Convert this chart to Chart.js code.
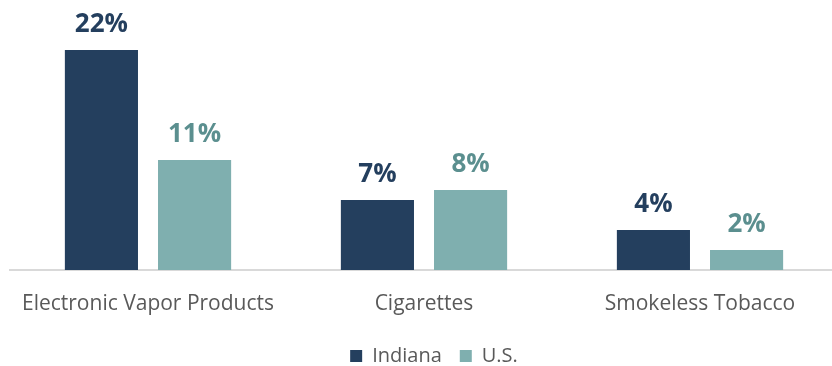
<!DOCTYPE html>
<html>
<head>
<meta charset="utf-8">
<script src="https://cdn.jsdelivr.net/npm/chart.js@4.4.1/dist/chart.umd.min.js"></script>
<style>
  html, body { margin: 0; padding: 0; background: #fff; }
  #wrap { width: 832px; height: 366px; overflow: hidden; }
  #box { width: 840px; height: 366px; }
</style>
</head>
<body>
<div id="wrap"><div id="box"><canvas id="chart"></canvas></div></div>
<script>
const categorias = ['Electronic Vapor Products', 'Cigarettes', 'Smokeless Tobacco'];
const indiana = [22, 7, 4];
const us = [11, 8, 2];

const corIndiana = '#243f5e';
const corUS = '#7fafaf';
const fonte = "'Open Sans', sans-serif";

// escreve o valor (%) acima de cada barra
const rotulosBarras = {
    id: 'rotulosBarras',
    afterDatasetsDraw(chart) {
        const ctx = chart.ctx;
        ctx.save();
        ctx.font = `bold 26px ${fonte}`;
        ctx.textAlign = 'center';
        ctx.textBaseline = 'alphabetic';
        chart.data.datasets.forEach((ds, i) => {
            chart.getDatasetMeta(i).data.forEach((bar, j) => {
                ctx.fillStyle = ds.labelColor;
                ctx.fillText(ds.data[j] + '%', bar.x, bar.y - 18);
            });
        });
        ctx.restore();
    }
};

// empurra a legenda um pouco para a direita
const deslocaLegenda = {
    id: 'deslocaLegenda',
    afterLayout(chart) {
        chart.legend.left += 10;
        chart.legend.right += 10;
    }
};

new Chart(document.getElementById('chart'), {
    type: 'bar',
    data: {
        labels: categorias,
        datasets: [{
            label: 'Indiana',
            data: indiana,
            backgroundColor: corIndiana,
            labelColor: corIndiana,
            barPercentage: 0.785,
            categoryPercentage: 0.675
        }, {
            label: 'U.S.',
            data: us,
            backgroundColor: corUS,
            labelColor: '#5b8f8f',
            barPercentage: 0.785,
            categoryPercentage: 0.675
        }]
    },
    options: {
        responsive: true,
        maintainAspectRatio: false,
        animation: false,
        layout: { padding: { left: 10, right: 2, top: 50, bottom: -10 } },
        plugins: {
            legend: {
                position: 'bottom',
                labels: {
                    boxWidth: 12,
                    boxHeight: 12,
                    padding: 18,
                    color: '#595959',
                    font: { family: fonte, size: 20 }
                }
            },
            tooltip: { enabled: false }
        },
        scales: {
            x: {
                grid: { display: false },
                border: { color: '#d9d9d9', width: 2 },
                ticks: {
                    color: '#595959',
                    padding: 13,
                    font: { family: fonte, size: 21 }
                },
                afterFit(scale) { scale.height = 58; }
            },
            y: {
                display: false,
                min: 0,
                max: 22
            }
        }
    },
    plugins: [rotulosBarras, deslocaLegenda]
});
</script>
</body>
</html>
